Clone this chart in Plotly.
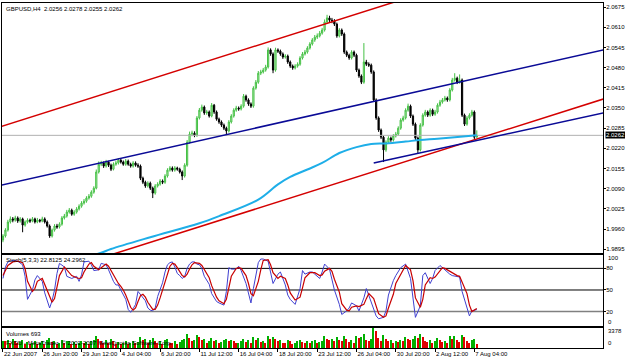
import plotly.graph_objects as go

# ---------------- data ----------------
bars = list(range(194))  # H4 bars from 22 Jun 2007 04:00

open_ = [
1.9925,1.9938,1.9957,1.9983,1.9993,1.9989,1.9996,1.9986,1.9993,1.9973,
1.9983,1.9989,1.9986,1.9993,1.9983,1.9989,1.9986,1.9993,1.9983,1.9970,
1.9938,1.9957,1.9970,1.9967,1.9976,1.9996,2.0002,2.0015,2.0021,2.0008,
2.0015,2.0025,2.0034,2.0044,2.0050,2.0060,2.0066,2.0079,2.0092,2.0144,
2.0169,2.0173,2.0163,2.0176,2.0166,2.0153,2.0169,2.0173,2.0182,2.0176,
2.0169,2.0179,2.0169,2.0163,2.0173,2.0166,2.0163,2.0124,2.0111,2.0099,
2.0108,2.0092,2.0076,2.0099,2.0105,2.0115,2.0111,2.0131,2.0150,2.0157,
2.0150,2.0157,2.0153,2.0144,2.0131,2.0166,2.0240,2.0266,2.0269,2.0262,
2.0318,2.0343,2.0353,2.0334,2.0337,2.0324,2.0359,2.0337,2.0314,2.0305,
2.0295,2.0285,2.0276,2.0305,2.0324,2.0343,2.0350,2.0347,2.0356,2.0388,
2.0376,2.0363,2.0356,2.0414,2.0433,2.0462,2.0466,2.0472,2.0482,2.0537,
2.0524,2.0472,2.0537,2.0533,2.0524,2.0514,2.0517,2.0498,2.0485,2.0479,
2.0485,2.0491,2.0511,2.0524,2.0530,2.0543,2.0556,2.0569,2.0578,2.0582,
2.0591,2.0601,2.0627,2.0640,2.0633,2.0630,2.0620,2.0582,2.0601,2.0588,
2.0530,2.0520,2.0511,2.0530,2.0520,2.0472,2.0453,2.0433,2.0498,2.0491,
2.0488,2.0466,2.0376,2.0318,2.0279,2.0256,2.0215,2.0240,2.0253,2.0247,
2.0260,2.0266,2.0285,2.0311,2.0318,2.0343,2.0356,2.0324,2.0298,2.0253,
2.0215,2.0295,2.0327,2.0337,2.0327,2.0343,2.0330,2.0337,2.0359,2.0369,
2.0376,2.0382,2.0376,2.0408,2.0440,2.0446,2.0433,2.0440,2.0327,2.0298,
2.0318,2.0327,2.0337,2.0256]

high = [
1.9944,1.9963,1.9990,2.0001,1.9999,2.0003,2.0001,1.9999,1.9997,1.9988,
1.9995,1.9994,1.9999,1.9997,1.9996,1.9993,2.0000,1.9998,1.9988,1.9975,
1.9962,1.9976,1.9977,1.9982,2.0002,2.0009,2.0022,2.0028,2.0026,2.0021,
2.0031,2.0040,2.0050,2.0057,2.0066,2.0073,2.0085,2.0098,2.0152,2.0178,
2.0180,2.0178,2.0183,2.0180,2.0171,2.0175,2.0180,2.0189,2.0187,2.0181,
2.0186,2.0184,2.0174,2.0179,2.0178,2.0172,2.0168,2.0129,2.0116,2.0114,
2.0113,2.0097,2.0105,2.0111,2.0121,2.0120,2.0137,2.0156,2.0163,2.0162,
2.0163,2.0161,2.0158,2.0149,2.0172,2.0247,2.0274,2.0277,2.0275,2.0324,
2.0350,2.0361,2.0358,2.0344,2.0342,2.0366,2.0363,2.0342,2.0319,2.0310,
2.0300,2.0290,2.0311,2.0330,2.0349,2.0357,2.0355,2.0362,2.0395,2.0393,
2.0381,2.0368,2.0420,2.0440,2.0469,2.0473,2.0479,2.0489,2.0545,2.0542,
2.0529,2.0544,2.0542,2.0538,2.0529,2.0523,2.0522,2.0503,2.0490,2.0491,
2.0497,2.0517,2.0530,2.0537,2.0549,2.0562,2.0575,2.0585,2.0590,2.0598,
2.0608,2.0635,2.0650,2.0647,2.0640,2.0636,2.0625,2.0607,2.0606,2.0593,
2.0535,2.0525,2.0536,2.0535,2.0525,2.0477,2.0458,2.0559,2.0505,2.0497,
2.0493,2.0471,2.0381,2.0323,2.0284,2.0261,2.0246,2.0259,2.0258,2.0266,
2.0273,2.0291,2.0317,2.0325,2.0349,2.0364,2.0361,2.0329,2.0303,2.0258,
2.0301,2.0333,2.0344,2.0342,2.0349,2.0348,2.0344,2.0365,2.0376,2.0382,
2.0389,2.0387,2.0414,2.0447,2.0462,2.0451,2.0458,2.0445,2.0332,2.0324,
2.0333,2.0344,2.0342,2.0278]

low = [
1.9918,1.9933,1.9952,1.9978,1.9982,1.9984,1.9980,1.9981,1.9950,1.9968,
1.9978,1.9980,1.9982,1.9978,1.9979,1.9981,1.9982,1.9978,1.9965,1.9932,
1.9933,1.9952,1.9961,1.9962,1.9971,1.9991,1.9997,2.0010,2.0003,2.0003,
2.0010,2.0020,2.0029,2.0039,2.0045,2.0055,2.0061,2.0074,2.0088,2.0139,
2.0163,2.0157,2.0158,2.0160,2.0147,2.0149,2.0164,2.0168,2.0171,2.0164,
2.0164,2.0164,2.0158,2.0158,2.0161,2.0157,2.0118,2.0105,2.0093,2.0094,
2.0086,2.0060,2.0071,2.0094,2.0100,2.0105,2.0106,2.0126,2.0145,2.0145,
2.0145,2.0148,2.0139,2.0118,2.0126,2.0161,2.0235,2.0259,2.0256,2.0257,
2.0313,2.0338,2.0328,2.0328,2.0319,2.0320,2.0331,2.0309,2.0299,2.0289,
2.0279,2.0266,2.0271,2.0300,2.0319,2.0338,2.0341,2.0342,2.0351,2.0370,
2.0357,2.0350,2.0351,2.0409,2.0428,2.0456,2.0461,2.0467,2.0477,2.0518,
2.0462,2.0467,2.0527,2.0518,2.0508,2.0509,2.0492,2.0479,2.0473,2.0474,
2.0480,2.0486,2.0506,2.0519,2.0525,2.0538,2.0551,2.0563,2.0572,2.0577,
2.0586,2.0596,2.0621,2.0627,2.0623,2.0614,2.0576,2.0577,2.0582,2.0524,
2.0514,2.0505,2.0506,2.0514,2.0466,2.0447,2.0427,2.0428,2.0485,2.0482,
2.0460,2.0370,2.0312,2.0273,2.0250,2.0176,2.0209,2.0235,2.0241,2.0242,
2.0255,2.0261,2.0280,2.0306,2.0313,2.0338,2.0318,2.0292,2.0247,2.0205,
2.0210,2.0290,2.0322,2.0321,2.0322,2.0324,2.0325,2.0332,2.0354,2.0364,
2.0371,2.0370,2.0371,2.0403,2.0435,2.0427,2.0428,2.0321,2.0292,2.0293,
2.0313,2.0322,2.0250,2.0255]

close = [
1.9938,1.9957,1.9983,1.9993,1.9989,1.9996,1.9986,1.9993,1.9973,1.9983,
1.9989,1.9986,1.9993,1.9983,1.9989,1.9986,1.9993,1.9983,1.9970,1.9938,
1.9957,1.9970,1.9967,1.9976,1.9996,2.0002,2.0015,2.0021,2.0008,2.0015,
2.0025,2.0034,2.0044,2.0050,2.0060,2.0066,2.0079,2.0092,2.0144,2.0169,
2.0173,2.0163,2.0176,2.0166,2.0153,2.0169,2.0173,2.0182,2.0176,2.0169,
2.0179,2.0169,2.0163,2.0173,2.0166,2.0163,2.0124,2.0111,2.0099,2.0108,
2.0092,2.0076,2.0099,2.0105,2.0115,2.0111,2.0131,2.0150,2.0157,2.0150,
2.0157,2.0153,2.0144,2.0131,2.0166,2.0240,2.0266,2.0269,2.0262,2.0318,
2.0343,2.0353,2.0334,2.0337,2.0324,2.0359,2.0337,2.0314,2.0305,2.0295,
2.0285,2.0276,2.0305,2.0324,2.0343,2.0350,2.0347,2.0356,2.0388,2.0376,
2.0363,2.0356,2.0414,2.0433,2.0462,2.0466,2.0472,2.0482,2.0537,2.0524,
2.0472,2.0537,2.0533,2.0524,2.0514,2.0517,2.0498,2.0485,2.0479,2.0485,
2.0491,2.0511,2.0524,2.0530,2.0543,2.0556,2.0569,2.0578,2.0582,2.0591,
2.0601,2.0627,2.0640,2.0633,2.0630,2.0620,2.0582,2.0601,2.0588,2.0530,
2.0520,2.0511,2.0530,2.0520,2.0472,2.0453,2.0433,2.0498,2.0491,2.0488,
2.0466,2.0376,2.0318,2.0279,2.0256,2.0215,2.0240,2.0253,2.0247,2.0260,
2.0266,2.0285,2.0311,2.0318,2.0343,2.0356,2.0324,2.0298,2.0253,2.0215,
2.0295,2.0327,2.0337,2.0327,2.0343,2.0330,2.0337,2.0359,2.0369,2.0376,
2.0382,2.0376,2.0408,2.0440,2.0446,2.0433,2.0440,2.0327,2.0298,2.0318,
2.0327,2.0337,2.0256,2.0262]

volume = [
1250,1100,1350,900,1500,1200,800,950,1400,700,
1000,650,900,1100,600,850,1200,700,1300,1700,
1000,1150,600,900,1300,800,1100,1250,700,1000,
600,850,1150,900,1000,700,1200,1400,2100,1600,
1200,800,1300,900,1500,1100,700,1000,600,850,
1200,750,900,1250,800,1000,1800,1300,1500,900,
1400,1700,1200,800,1100,700,1300,1500,900,800,
1100,650,1000,1300,1600,2300,1700,1100,1400,2200,
1800,1300,1600,900,1200,1700,1100,1400,900,1000,
1300,1500,1200,1400,1100,800,900,1200,1600,1000,
1300,900,1800,1400,1700,1000,1200,900,2000,1500,
1900,1600,1100,1300,900,800,1400,1200,700,900,
1100,1300,1000,800,1200,900,1100,1300,800,1000,
1200,2000,1600,1300,1500,1100,1900,1400,1200,2100,
1500,1000,1300,900,2000,1700,1800,2400,1300,1100,
1600,3378,2800,1700,1200,2200,1500,1100,1300,800,
1200,1000,1400,1100,1800,1500,1300,1600,2000,1700,
2300,1800,1200,1000,1400,900,1200,1700,1300,1000,
1200,800,2000,1500,2100,1400,1000,2200,1800,1200,
900,1300,1500,693]

# Stochastic(5,3,3)
stoch_bar = [0,1,2,4,6,8,9,10,12,13,14,16,17,19,20,21,22,23,25,26,28,30,31,32,33,35,36,37,39,40,
             41,42,43,44,45,46,47,48,49,50,51,52,53,54,55,56,57,58,59,60,61,62,63,64,65,66,67,68,69,70,
             71,72,73,74,75,76,77,78,79,80,81,82,84,85,86,87,88,90,91,92,93,95,96,97,99,100,101,102,104,105,
             106,108,109,110,112,113,115,116,117,119,121,122,123,125,126,127,129,130,131,133,134,135,137,138,140,141,
             142,144,145,147,148,149,151,152,153,155,156,157,159,160,162,163,164,166,167,168,170,171,172,174,175,176,
             178,179,180,182,183,185,186,187,189,190,191,193]
stoch_main = [66,82,89,91,90,85,69,37,50,64,70,62,46,25,35,50,73,87,82,69,66,69,62,71,89,90,85,77,78,87,
              86,85,78,69,62,57,57,50,43,37,23,19,24,30,48,44,40,35,25,22,21,25,41,50,60,75,85,88,89,82,
              73,70,66,69,80,86,89,89,86,85,80,69,58,45,39,34,32,29,48,81,79,79,83,77,59,43,32,52,88,93,
              93,90,75,59,72,75,57,43,37,30,52,77,72,75,75,72,66,75,86,79,66,50,30,16,21,25,
              32,28,21,39,52,43,25,14,10,12,21,43,63,70,81,84,86,66,39,12,28,70,74,59,66,77,
              84,81,77,72,70,69,68,48,25,14,21,22.8125]
stoch_signal = [70,76,84,89,90,88,80,62,48,52,62,66,58,40,33,38,54,70,82,78,70,67,66,67,75,86,88,83,78,81,
                84,86,83,77,70,63,59,55,50,43,34,26,22,25,34,42,44,40,33,27,23,23,29,39,50,62,73,83,87,86,
                81,75,70,68,72,79,85,88,88,87,84,78,67,56,47,40,35,31,37,53,69,80,81,80,70,59,45,42,62,78,
                91,92,85,74,66,69,66,57,46,36,40,53,67,74,74,74,70,71,76,80,76,65,47,31,22,21,
                26,28,27,30,38,45,38,27,17,12,14,25,44,59,71,79,84,78,63,39,26,37,57,67,66,68,
                76,81,80,76,73,70,69,61,45,29,20,24.2962]
stoch_levels = [80, 50, 20]

# moving average (cyan line) read at a few bars
ma_bar = [30, 40, 44, 60, 80, 88, 104, 112, 117, 124, 130, 137, 144, 150, 156, 164, 170, 177, 184, 193]
ma_val = [1.9860, 1.9884, 1.9896, 1.9934, 1.9979, 2.0002, 2.0055, 2.0104, 2.0128, 2.0152, 2.0173,
          2.0205, 2.0224, 2.0234, 2.0236, 2.0242, 2.0247, 2.0251, 2.0256, 2.0262]

# trend lines: (bar0, price0, bar1, price1)
red_upper = (-1, 2.0290, 245, 2.0905)
red_lower = (-1, 1.9765, 245, 2.0380)
blue_upper = (-1, 2.0101, 245, 2.0538)
blue_lower = (151, 2.0173, 245, 2.0335)
bid_price = 2.0262

price_ticks = [2.0675, 2.0610, 2.0545, 2.0480, 2.0415, 2.0350, 2.0285, 2.0220,
               2.0155, 2.0090, 2.0025, 1.9960, 1.9895]
time_tick_bars = [0, 16, 32, 48, 64, 80, 96, 112, 128, 144, 160, 176, 192]
time_tick_labels = ["22 Jun 2007", "26 Jun 20:00", "29 Jun 12:00", "4 Jul 04:00", "6 Jul 20:00",
                    "11 Jul 12:00", "16 Jul 04:00", "18 Jul 20:00", "23 Jul 12:00", "26 Jul 04:00",
                    "30 Jul 20:00", "2 Aug 12:00", "7 Aug 04:00"]

title_text = "GBPUSD,H4  2.0256 2.0278 2.0255 2.0262"
stoch_text = "Stoch(5,3,3) 22.8125 24.2962"
volume_text = "Volumes 693"
copyright_text = "FXDD - MetaTrader, \u00a9 2001-2007 MetaQuotes Software Corp."

# ---------------- figure ----------------
XR = [-0.4, 244.4]
FONT = "Liberation Sans"
FS = 6

vol_colors = ["#00b000"] + ["#00b000" if volume[i] > volume[i - 1] else "#e00000"
                            for i in range(1, len(volume))]

fig = go.Figure()

# bid line
fig.add_trace(go.Scatter(x=[XR[0], XR[1]], y=[bid_price, bid_price], mode="lines",
                         line=dict(color="#b0b0b0", width=1), xaxis="x", yaxis="y", hoverinfo="skip"))

fig.add_trace(go.Candlestick(
    x=bars, open=open_, high=high, low=low, close=close,
    increasing=dict(line=dict(color="#46c046", width=1), fillcolor="#c4f0c0"),
    decreasing=dict(line=dict(color="#000000", width=1), fillcolor="#000000"),
    whiskerwidth=0, xaxis="x", yaxis="y"))

fig.add_trace(go.Scatter(x=ma_bar, y=ma_val, mode="lines", line=dict(color="#1eaee8", width=2, shape="spline"),
                         xaxis="x", yaxis="y"))

for ln, col in [(red_upper, "#d40000"), (red_lower, "#d40000"),
                (blue_upper, "#0a0a96"), (blue_lower, "#0a0a96")]:
    fig.add_trace(go.Scatter(x=[ln[0], ln[2]], y=[ln[1], ln[3]], mode="lines",
                             line=dict(color=col, width=1.5), xaxis="x", yaxis="y"))

# stochastic window
for lv in stoch_levels:
    fig.add_trace(go.Scatter(x=[XR[0], XR[1]], y=[lv, lv], mode="lines",
                             line=dict(color="#000000" if lv != 20 else "#808080", width=1 if lv != 20 else 1.5),
                             xaxis="x2", yaxis="y2"))
fig.add_trace(go.Scatter(x=stoch_bar, y=stoch_main, mode="lines", line=dict(color="#4040d0", width=1),
                         xaxis="x2", yaxis="y2"))
fig.add_trace(go.Scatter(x=stoch_bar, y=stoch_signal, mode="lines", line=dict(color="#c80000", width=1.2),
                         xaxis="x2", yaxis="y2"))

# volumes
fig.add_trace(go.Bar(x=bars, y=volume, marker=dict(color=vol_colors, line=dict(width=0)), width=0.6,
                     xaxis="x3", yaxis="y3"))

axis_common = dict(showline=True, linecolor="black", linewidth=1, mirror=True, showgrid=False,
                   zeroline=False, range=XR, fixedrange=True, automargin=False)
yax_common = dict(side="right", showline=True, linecolor="black", linewidth=1, mirror=True,
                  showgrid=False, zeroline=False, automargin=False, fixedrange=True,
                  ticklabelstandoff=-1,
                  tickfont=dict(size=FS, family=FONT, color="black"))

fig.update_layout(
    width=625, height=359, margin=dict(l=2, r=22, t=3, b=11, autoexpand=False),
    paper_bgcolor="white", plot_bgcolor="white", showlegend=False,
    font=dict(family=FONT, size=FS, color="black"),
    bargap=0,
    xaxis=dict(domain=[0, 1], anchor="y", showticklabels=False, ticks="", rangeslider=dict(visible=False),
               **axis_common),
    yaxis=dict(domain=[0.2725, 1], anchor="x", range=[1.9880, 2.0688],
               tickvals=price_ticks, ticktext=["%.4f" % v for v in price_ticks],
               ticks="outside", ticklen=2, tickcolor="black", **yax_common),
    xaxis2=dict(domain=[0, 1], anchor="y2", showticklabels=False, ticks="", matches="x", **axis_common),
    yaxis2=dict(domain=[0.0638, 0.2725], anchor="x2", range=[0, 100],
                tickvals=[80, 50, 20], ticktext=["80", "50", "20"],
                ticks="outside", ticklen=2, tickcolor="black", **yax_common),
    xaxis3=dict(domain=[0, 1], anchor="y3", matches="x", tickvals=time_tick_bars, ticktext=time_tick_labels,
                ticks="outside", ticklen=3, tickcolor="black", ticklabelposition="outside right",
                tickangle=0, tickfont=dict(size=FS, family=FONT, color="black"), **axis_common),
    yaxis3=dict(domain=[0, 0.058], anchor="x3", range=[0, 3378], showticklabels=False,
                ticks="", **yax_common),
)

def side_label(text, ypix):
    return dict(text=text, x=1, y=(348 - ypix) / 345.0, xref="paper", yref="paper", xanchor="left",
                yanchor="middle", xshift=3, showarrow=False, font=dict(size=FS, family=FONT, color="black"))

ann = [
    dict(text=title_text, x=0.004, y=0.996, xref="paper", yref="paper", xanchor="left", yanchor="top",
         showarrow=False, font=dict(size=FS, family=FONT, color="black")),
    dict(text=stoch_text, x=0.004, y=0.2695, xref="paper", yref="paper", xanchor="left", yanchor="top",
         showarrow=False, font=dict(size=FS, family=FONT, color="black")),
    dict(text=volume_text, x=0.004, y=0.056, xref="paper", yref="paper", xanchor="left", yanchor="top",
         showarrow=False, font=dict(size=FS, family=FONT, color="black")),
    dict(text=copyright_text, x=0.004, y=0.030, xref="paper", yref="paper", xanchor="left", yanchor="top",
         showarrow=False, font=dict(size=FS, family=FONT, color="black")),
    side_label("100", 257.5),
    side_label("0", 322),
    side_label("3378", 331),
    side_label("0", 342.5),
    dict(text="%.4f" % bid_price, x=1, y=bid_price, xref="paper", yref="y", xanchor="left", yanchor="middle",
         xshift=2, showarrow=False, bgcolor="black", borderpad=0,
         font=dict(size=FS, family=FONT, color="white")),
]
fig.update_layout(annotations=ann)

fig.write_html("out.html")
